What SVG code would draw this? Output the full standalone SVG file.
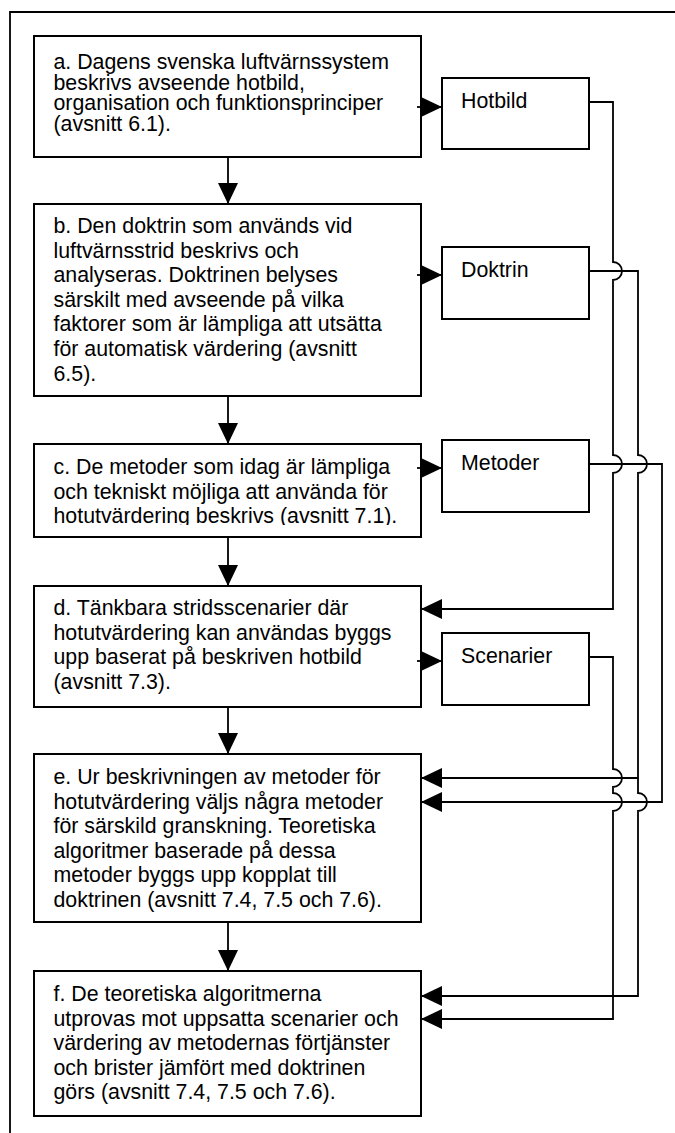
<svg xmlns="http://www.w3.org/2000/svg" width="675" height="1133" viewBox="0 0 675 1133">
<style>
.box{fill:#fff;stroke:#000;stroke-width:2}
.t{font-family:"Liberation Sans",Arial,sans-serif;font-size:21.33px;fill:#000}
.c{fill:none;stroke:#000;stroke-width:1.8}
.frame{fill:none;stroke:#000;stroke-width:1.8}
</style>
<defs>
<marker id="ah" markerUnits="userSpaceOnUse" markerWidth="22" markerHeight="20" refX="21" refY="10" orient="auto" viewBox="0 0 22 20">
<path d="M0,0 L21,10 L0,20 Z" fill="#000"/>
</marker>
<clipPath id="clipc"><rect x="34" y="444" width="387" height="81"/></clipPath>
</defs>
<path class="frame" d="M690,12 H10 V1145"/>

<g id="node-a">
<rect class="box" x="34" y="36" width="387" height="121"/>
<text class="t" x="53.5" y="69">a. Dagens svenska luftvärnssystem</text>
<text class="t" x="53.5" y="89.7">beskrivs avseende hotbild,</text>
<text class="t" x="53.5" y="110.4">organisation och funktionsprinciper</text>
<text class="t" x="53.5" y="131">(avsnitt 6.1).</text>
</g>
<g id="node-b">
<rect class="box" x="34" y="204" width="387" height="192"/>
<text class="t" x="53.5" y="233">b. Den doktrin som används vid</text>
<text class="t" x="53.5" y="257.6">luftvärnsstrid beskrivs och</text>
<text class="t" x="53.5" y="282.2">analyseras. Doktrinen belyses</text>
<text class="t" x="53.5" y="306.8">särskilt med avseende på vilka</text>
<text class="t" x="53.5" y="331.4">faktorer som är lämpliga att utsätta</text>
<text class="t" x="53.5" y="356">för automatisk värdering (avsnitt</text>
<text class="t" x="53.5" y="380.6">6.5).</text>
</g>
<g id="node-c">
<rect class="box" x="34" y="444" width="387" height="93"/>
<g clip-path="url(#clipc)">
<text class="t" x="53.5" y="474">c. De metoder som idag är lämpliga</text>
<text class="t" x="53.5" y="498.5">och tekniskt möjliga att använda för</text>
<text class="t" x="53.5" y="523">hotutvärdering beskrivs (avsnitt 7.1).</text>
</g>
</g>
<g id="node-d">
<rect class="box" x="34" y="586" width="387" height="121"/>
<text class="t" x="53.5" y="615">d. Tänkbara stridsscenarier där</text>
<text class="t" x="53.5" y="639.5">hotutvärdering kan användas byggs</text>
<text class="t" x="53.5" y="664">upp baserat på beskriven hotbild</text>
<text class="t" x="53.5" y="688.5">(avsnitt 7.3).</text>
</g>
<g id="node-e">
<rect class="box" x="34" y="754" width="387" height="168"/>
<text class="t" x="53.5" y="784">e. Ur beskrivningen av metoder för</text>
<text class="t" x="53.5" y="808.5">hotutvärdering väljs några metoder</text>
<text class="t" x="53.5" y="833">för särskild granskning. Teoretiska</text>
<text class="t" x="53.5" y="857.5">algoritmer baserade på dessa</text>
<text class="t" x="53.5" y="882">metoder byggs upp kopplat till</text>
<text class="t" x="53.5" y="906.5">doktrinen (avsnitt 7.4, 7.5 och 7.6).</text>
</g>
<g id="node-f">
<rect class="box" x="34" y="971" width="387" height="145"/>
<text class="t" x="53.5" y="1001">f. De teoretiska algoritmerna</text>
<text class="t" x="53.5" y="1025.5">utprovas mot uppsatta scenarier och</text>
<text class="t" x="53.5" y="1050">värdering av metodernas förtjänster</text>
<text class="t" x="53.5" y="1074.5">och brister jämfört med doktrinen</text>
<text class="t" x="53.5" y="1099">görs (avsnitt 7.4, 7.5 och 7.6).</text>
</g>
<g id="node-hotbild">
<rect class="box" x="442" y="78" width="147" height="71"/>
<text class="t" x="461" y="108">Hotbild</text>
</g>
<g id="node-doktrin">
<rect class="box" x="442" y="247" width="147" height="72"/>
<text class="t" x="461" y="277">Doktrin</text>
</g>
<g id="node-metoder">
<rect class="box" x="442" y="440" width="147" height="72"/>
<text class="t" x="461" y="470">Metoder</text>
</g>
<g id="node-scenarier">
<rect class="box" x="442" y="633" width="147" height="72"/>
<text class="t" x="461" y="663">Scenarier</text>
</g>

<g id="connectors">
<path class="c" d="M228,157 V204" marker-end="url(#ah)"/>
<path class="c" d="M228,396 V444" marker-end="url(#ah)"/>
<path class="c" d="M228,537 V586" marker-end="url(#ah)"/>
<path class="c" d="M228,707 V754" marker-end="url(#ah)"/>
<path class="c" d="M228,922 V971" marker-end="url(#ah)"/>
<path class="c" d="M417,107 H442" marker-end="url(#ah)"/>
<path class="c" d="M417,275 H442" marker-end="url(#ah)"/>
<path class="c" d="M417,468 H442" marker-end="url(#ah)"/>
<path class="c" d="M417,661 H442" marker-end="url(#ah)"/>
<path class="c" d="M589,102 H613 V262 A9,9 0 0 1 613,280 V455 A9,9 0 0 1 613,473 V609 H421" marker-end="url(#ah)"/>
<path class="c" d="M589,271 H638 V455 A9,9 0 0 1 638,473 V778 H421" marker-end="url(#ah)"/>
<path class="c" d="M638,778 V793 A9,9 0 0 1 638,811 V996 H421" marker-end="url(#ah)"/>
<path class="c" d="M589,464 H662 V802 H421" marker-end="url(#ah)"/>
<path class="c" d="M589,657 H613 V769 A9,9 0 0 1 613,787 V793 A9,9 0 0 1 613,811 V1019 H421" marker-end="url(#ah)"/>
</g>
</svg>
